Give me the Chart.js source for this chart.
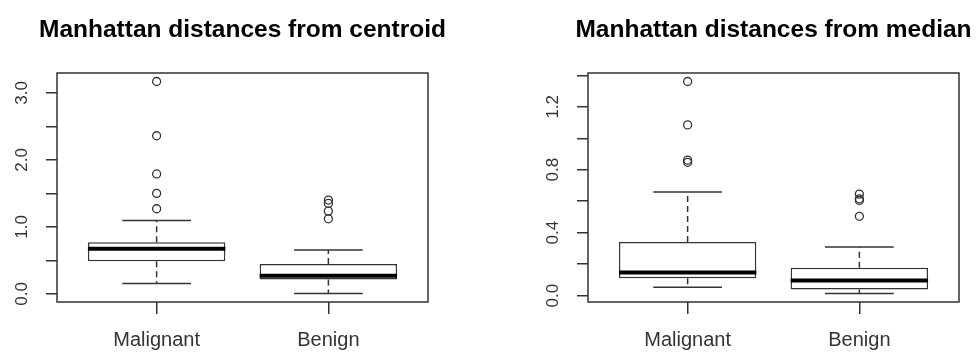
<!DOCTYPE html>
<html>
<head>
<meta charset="utf-8">
<script src="https://cdn.jsdelivr.net/npm/chart.js@4/dist/chart.umd.min.js"></script>
<style>
  html, body { margin: 0; padding: 0; background: #fff; }
  body { width: 979px; height: 352px; position: relative; overflow: hidden; }
  canvas { position: absolute; top: 0; }
  #centroid { left: 0; }
  #median { left: 490px; }
</style>
</head>
<body>
<canvas id="centroid" width="490" height="352"></canvas>
<canvas id="median" width="489" height="352"></canvas>
<script>
const groups = ["Malignant", "Benign"];

// left panel: Manhattan distances from centroid
const centroidLow = [0.155, 0.005];
const centroidQ1 = [0.485, 0.215];
const centroidMed = [0.675, 0.27];
const centroidQ3 = [0.77, 0.445];
const centroidHigh = [1.095, 0.655];
const centroidOut = [[1.27, 1.5, 1.79, 2.36, 3.17], [1.12, 1.235, 1.35, 1.4]];
const centroidTicks = [0, 0.5, 1, 1.5, 2, 2.5, 3];
const centroidTickLabels = ["0.0", "", "1.0", "", "2.0", "", "3.0"];

// right panel: Manhattan distances from median
const medianLow = [0.053, 0.013];
const medianQ1 = [0.11, 0.038];
const medianMed = [0.147, 0.096];
const medianQ3 = [0.34, 0.177];
const medianHigh = [0.659, 0.308];
const medianOut = [[0.847, 0.861, 1.085, 1.361], [0.504, 0.605, 0.615, 0.645]];
const medianTicks = [0, 0.2, 0.4, 0.6, 0.8, 1.0, 1.2, 1.4];
const medianTickLabels = ["0.0", "", "0.4", "", "0.8", "", "1.2", ""];

const FONT = '"Liberation Sans", Arial, sans-serif';
const INK = "#333";

// R draws a full box round the plot region, and centres the title over it
const framePlugin = {
  id: "frame",
  afterDraw(chart, args, opts) {
    const { ctx, chartArea: a } = chart;
    ctx.save();
    ctx.strokeStyle = INK;
    ctx.lineWidth = 1.5;
    ctx.strokeRect(a.left, a.top, a.right - a.left, a.bottom - a.top);
    ctx.fillStyle = "#000";
    ctx.font = "bold 24.5px " + FONT;
    ctx.textAlign = "center";
    ctx.textBaseline = "alphabetic";
    ctx.fillText(opts.text, (a.left + a.right) / 2, 36.5);
    ctx.restore();
  },
};

// half of R's default box width (0.8 of a group), in pixels
const halfBox = (frac) => (c) => {
  const s = c.chart.scales.x;
  return (s.getPixelForValue(1 + 0.4 * frac) - s.getPixelForValue(1));
};

function panel(id, title, low, q1, med, q3, high, out, ticks, tickLabels, axisWidth, rightPad) {
  const all = low.concat(high, ...out);
  const lo = Math.min(...all);
  const hi = Math.max(...all);
  const pad = (hi - lo) * 0.04;
  const n = groups.length;

  const whiskers = [];
  groups.forEach((g, i) => {
    whiskers.push(
      { x: i + 1, y: q3[i] }, { x: i + 1, y: high[i] }, { x: i + 1, y: null },
      { x: i + 1, y: q1[i] }, { x: i + 1, y: low[i] }, { x: i + 1, y: null }
    );
  });
  const caps = [];
  groups.forEach((g, i) => caps.push({ x: i + 1, y: low[i] }, { x: i + 1, y: high[i] }));
  const outliers = [];
  out.forEach((vals, i) => vals.forEach((v) => outliers.push({ x: i + 1, y: v })));

  return new Chart(document.getElementById(id), {
    type: "bar",
    data: {
      datasets: [
        {
          type: "line",
          data: outliers,
          showLine: false,
          pointStyle: "circle",
          pointRadius: 4,
          pointBorderWidth: 1.3,
          pointBorderColor: INK,
          pointBackgroundColor: "rgba(255,255,255,0)",
          order: 0,
        },
        {
          type: "line",
          data: groups.map((g, i) => ({ x: i + 1, y: med[i] })),
          showLine: false,
          pointStyle: "line",
          pointRadius: halfBox(1),
          pointBorderWidth: 4,
          pointBorderColor: "#000",
          order: 1,
        },
        {
          type: "line",
          data: caps,
          showLine: false,
          pointStyle: "line",
          pointRadius: halfBox(0.5),
          pointBorderWidth: 1.5,
          pointBorderColor: INK,
          order: 2,
        },
        {
          type: "line",
          data: whiskers,
          borderColor: INK,
          borderWidth: 1.5,
          borderDash: [6, 4],
          pointRadius: 0,
          spanGaps: false,
          order: 3,
        },
        {
          type: "bar",
          data: groups.map((g, i) => ({ x: i + 1, y: [q1[i], q3[i]] })),
          backgroundColor: "#fff",
          borderColor: INK,
          borderWidth: 1.5,
          borderSkipped: false,
          barPercentage: 0.8,
          categoryPercentage: 1,
          order: 4,
        },
      ],
    },
    options: {
      responsive: false,
      animation: false,
      events: [],
      layout: { autoPadding: false, padding: { left: 0, right: rightPad, top: 73, bottom: 0 } },
      plugins: {
        legend: { display: false },
        tooltip: { enabled: false },
        title: { display: false },
        frame: { text: title },
      },
      scales: {
        x: {
          type: "linear",
          min: 0.5 - 0.04 * n,
          max: n + 0.5 + 0.04 * n,
          offset: false,
          afterBuildTicks: (s) => { s.ticks = groups.map((g, i) => ({ value: i + 1 })); },
          afterFit: (s) => { s.height = 50; },
          border: { display: false },
          grid: { offset: false, drawOnChartArea: false, drawTicks: true, tickLength: 12, color: INK, lineWidth: 1.5 },
          ticks: {
            callback: (v, i) => groups[i],
            padding: 14,
            color: INK,
            maxRotation: 0,
            autoSkip: false,
            font: { family: FONT, size: 20 },
          },
        },
        y: {
          min: lo - pad,
          max: hi + pad,
          afterBuildTicks: (s) => { s.ticks = ticks.map((v) => ({ value: v })); },
          afterFit: (s) => { s.width = axisWidth; },
          border: { display: false },
          grid: { drawOnChartArea: false, drawTicks: true, tickLength: 11, color: INK, lineWidth: 1.5 },
          ticks: {
            callback: (v, i) => tickLabels[i],
            minRotation: 90,
            maxRotation: 90,
            crossAlign: "center",
            padding: 12,
            color: INK,
            autoSkip: false,
            font: { family: FONT, size: 17 },
          },
        },
      },
    },
    plugins: [framePlugin],
  });
}

panel("centroid", "Manhattan distances from centroid",
  centroidLow, centroidQ1, centroidMed, centroidQ3, centroidHigh, centroidOut,
  centroidTicks, centroidTickLabels, 57, 62);
panel("median", "Manhattan distances from median",
  medianLow, medianQ1, medianMed, medianQ3, medianHigh, medianOut,
  medianTicks, medianTickLabels, 98, 20);
</script>
</body>
</html>
